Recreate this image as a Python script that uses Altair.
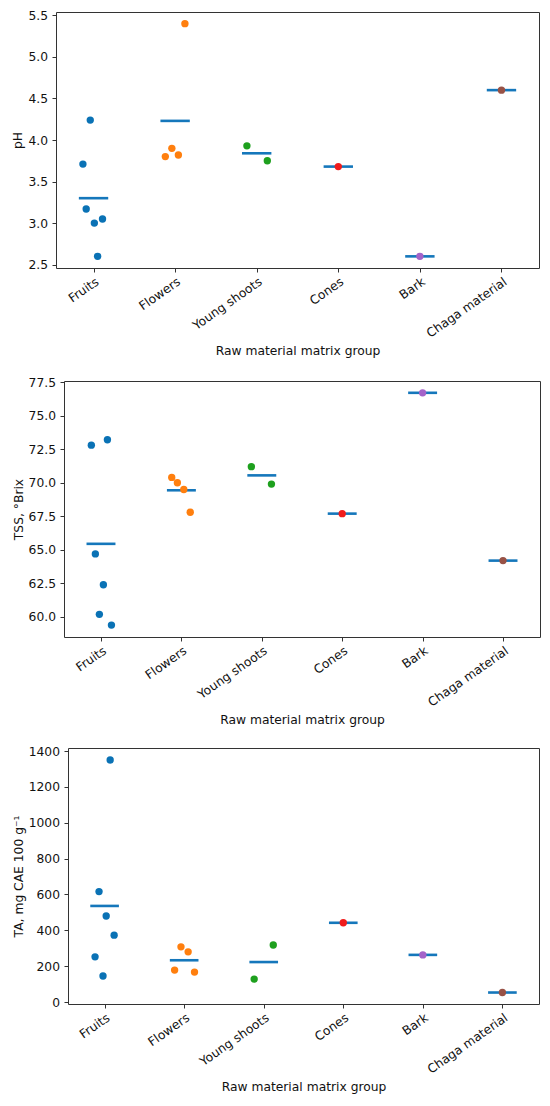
import json
import altair as alt
import pandas as pd

categories = ["Fruits", "Flowers", "Young shoots", "Cones", "Bark", "Chaga material"]
colors = ["#0a72b5", "#ff7f0e", "#1ea01e", "#f01c1c", "#a463c9", "#985246"]
mean_color = "#1577bb"

# pH
ph_values = {
    "Fruits": [4.24, 3.71, 3.17, 3.00, 3.05, 2.60],
    "Flowers": [5.40, 3.80, 3.90, 3.82],
    "Young shoots": [3.93, 3.75],
    "Cones": [3.68],
    "Bark": [2.60],
    "Chaga material": [4.60],
}
ph_jitter = {
    "Fruits": [-0.04, -0.13, -0.09, 0.01, 0.11, 0.05],
    "Flowers": [0.12, -0.12, -0.04, 0.04],
    "Young shoots": [-0.12, 0.13],
    "Cones": [0.0],
    "Bark": [0.0],
    "Chaga material": [0.0],
}
ph_means = [3.30, 4.23, 3.84, 3.68, 2.60, 4.60]

# TSS
tss_values = {
    "Fruits": [72.8, 73.2, 64.7, 62.4, 60.2, 59.4],
    "Flowers": [70.4, 70.0, 69.5, 67.8],
    "Young shoots": [71.2, 69.9],
    "Cones": [67.7],
    "Bark": [76.7],
    "Chaga material": [64.2],
}
tss_jitter = {
    "Fruits": [-0.12, 0.08, -0.07, 0.03, -0.02, 0.13],
    "Flowers": [-0.12, -0.05, 0.03, 0.11],
    "Young shoots": [-0.13, 0.12],
    "Cones": [0.0],
    "Bark": [0.0],
    "Chaga material": [0.0],
}
tss_means = [65.45, 69.44, 70.55, 67.7, 76.7, 64.2]

# TA
ta_values = {
    "Fruits": [1350, 616, 480, 373, 252, 145],
    "Flowers": [308, 280, 178, 167],
    "Young shoots": [128, 318],
    "Cones": [442],
    "Bark": [263],
    "Chaga material": [53],
}
ta_jitter = {
    "Fruits": [0.07, -0.07, 0.02, 0.12, -0.12, -0.02],
    "Flowers": [-0.04, 0.05, -0.12, 0.13],
    "Young shoots": [-0.12, 0.12],
    "Cones": [0.0],
    "Bark": [0.0],
    "Chaga material": [0.0],
}
ta_means = [536, 233, 223, 442, 263, 53]

FONT = "DejaVu Sans"
FS = 12.3


def points_frame(values, jitter):
    rows = []
    for i, c in enumerate(categories):
        for v, j in zip(values[c], jitter[c]):
            rows.append({"group": c, "idx": i, "jit": j, "value": v})
    return pd.DataFrame(rows)


def means_frame(means):
    return pd.DataFrame({"group": categories, "idx": list(range(len(categories))), "mean": means})


label_expr = json.dumps(categories) + "[datum.value]"


def spacer():
    return alt.Chart(pd.DataFrame({"v": [0]})).mark_point(opacity=0, size=0).encode(
        x=alt.value(0), y=alt.value(0)
    ).properties(width=1, height=1, view=alt.ViewBackground(stroke="transparent"))


def panel(values, jitter, means, ytitle, ydomain, yticks, yfmt, width, height=256):
    xscale = alt.Scale(domain=[-0.46, 5.46], nice=False, zero=False)
    xaxis = alt.Axis(
        values=list(range(len(categories))),
        labelExpr=label_expr,
        labelAngle=-35,
        labelAlign="right",
        labelBaseline="top",
        labelOverlap=False,
        labelBound=False,
        title="Raw material matrix group",
        grid=False,
        domain=False,
        ticks=True,
        tickSize=4,
        labelPadding=3,
        titlePadding=5,
    )
    yscale = alt.Scale(domain=ydomain, nice=False, zero=False)
    yaxis = alt.Axis(
        values=yticks,
        format=yfmt,
        title=ytitle,
        grid=False,
        domain=False,
        tickSize=4,
        labelPadding=4.5,
        titlePadding=3,
        labelOverlap=False,
    )
    base_pts = alt.Chart(points_frame(values, jitter)).transform_calculate(
        xpos="datum.idx + datum.jit"
    )
    pts = base_pts.mark_circle(size=54, opacity=1).encode(
        x=alt.X("xpos:Q", scale=xscale, axis=xaxis),
        y=alt.Y("value:Q", scale=yscale, axis=yaxis),
        color=alt.Color("group:N", scale=alt.Scale(domain=categories, range=colors), legend=None),
    )
    rules = alt.Chart(means_frame(means)).transform_calculate(
        x1="datum.idx - 0.18", x2="datum.idx + 0.18"
    ).mark_rule(color=mean_color, strokeWidth=2.6).encode(
        x=alt.X("x1:Q", scale=xscale, axis=xaxis),
        x2="x2:Q",
        y=alt.Y("mean:Q", scale=yscale, axis=yaxis),
    )
    body = alt.layer(rules, pts).properties(width=width, height=height)
    return alt.hconcat(spacer(), body, spacing=0)


p1 = panel(ph_values, ph_jitter, ph_means, "pH", [2.46, 5.54],
           [2.5, 3.0, 3.5, 4.0, 4.5, 5.0, 5.5], ".1f", 483)
p2 = panel(tss_values, tss_jitter, tss_means, "TSS, °Brix", [58.51, 77.58],
           [60.0, 62.5, 65.0, 67.5, 70.0, 72.5, 75.0, 77.5], ".1f", 476)
p3 = panel(ta_values, ta_jitter, ta_means, "TA, mg CAE 100 g\u207b\u00b9", [-11, 1417],
           [0, 200, 400, 600, 800, 1000, 1200, 1400], "d", 471)

chart = alt.vconcat(p1, p2, p3, spacing=17).properties(
    padding={"left": 0, "top": 0, "right": 0, "bottom": 0},
).configure(font=FONT).configure_view(
    stroke="#333333", strokeWidth=1
).configure_axis(
    labelFont=FONT, titleFont=FONT, labelFontSize=FS, titleFontSize=FS,
    titleFontWeight="normal", labelColor="#111111", titleColor="#111111",
    tickColor="#333333", tickWidth=1,
)

chart.save("out.html", embed_options={"renderer": "svg", "actions": False})
